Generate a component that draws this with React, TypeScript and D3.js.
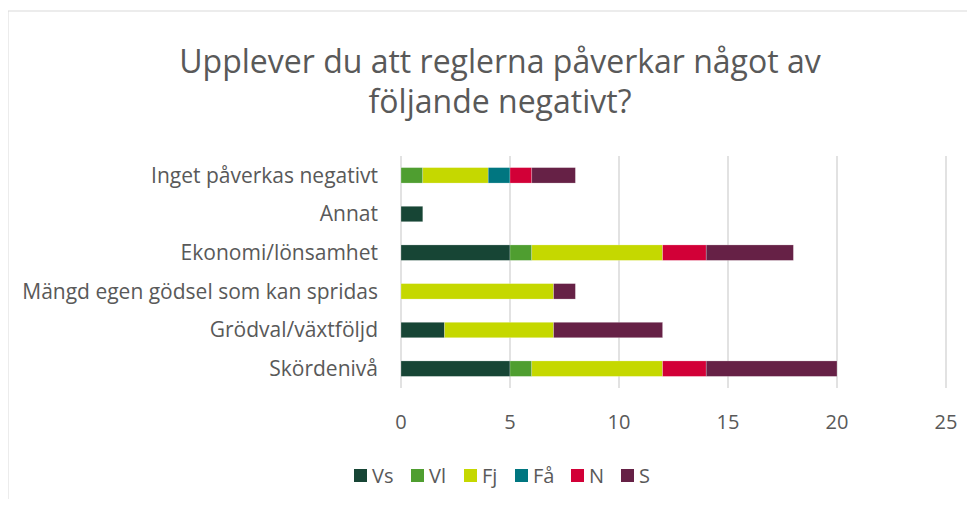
import React from "react";
import * as d3 from "d3";

const categories = [
  "Inget påverkas negativt",
  "Annat",
  "Ekonomi/lönsamhet",
  "Mängd egen gödsel som kan spridas",
  "Grödval/växtföljd",
  "Skördenivå",
];
const seriesNames = ["Vs", "Vl", "Fj", "Få", "N", "S"];
const vsValues = [0, 1, 5, 0, 2, 5];
const vlValues = [1, 0, 1, 0, 0, 1];
const fjValues = [3, 0, 6, 7, 5, 6];
const faValues = [1, 0, 0, 0, 0, 0];
const nValues = [1, 0, 2, 0, 0, 2];
const sValues = [2, 0, 4, 1, 5, 6];
const seriesColors = ["#174535", "#4f9e30", "#c5d800", "#007680", "#d20037", "#662146"];
const xTicks = [0, 5, 10, 15, 20, 25];
const titleLines = ["Upplever du att reglerna påverkar något av", "följande negativt?"];

const W = 975;
const H = 507;
const FONT = "'Open Sans', sans-serif";
const TXT = "#595959";

export default function App() {
  const seriesValues = [vsValues, vlValues, fjValues, faValues, nValues, sValues];
  const rows = categories.map((c, i) => {
    const r: any = { cat: c };
    seriesNames.forEach((s, j) => (r[s] = seriesValues[j][i]));
    return r;
  });
  const stack = d3.stack().keys(seriesNames)(rows);

  const x = d3.scaleLinear().domain([0, 25]).range([401, 946]);
  const y = d3
    .scaleBand()
    .domain(categories)
    .range([156, 388])
    .paddingInner(0.6)
    .paddingOuter(0.3);

  const legendX = [354, 411, 464, 515, 571, 621];

  return (
    <div style={{ margin: -8, width: W, height: H, overflow: "hidden" }}>
      <svg width={W} height={H} style={{ display: "block", background: "#fff" }}>
        <rect x={8} y={11} width={W} height={H} fill="#fff" stroke="#d9d9d9" strokeWidth={1} />
        {titleLines.map((t, i) => (
          <text
            key={i}
            x={500}
            y={73 + i * 40}
            textAnchor="middle"
            fontFamily={FONT}
            fontSize={32}
            fill={TXT}
          >
            {t}
          </text>
        ))}
        {xTicks.map((t) => (
          <g key={t}>
            <line x1={x(t)} x2={x(t)} y1={156} y2={388} stroke="#d9d9d9" strokeWidth={1.5} />
            <text
              x={x(t)}
              y={429}
              textAnchor="middle"
              fontFamily={FONT}
              fontSize={20}
              fill={TXT}
            >
              {t}
            </text>
          </g>
        ))}
        {stack.map((layer, j) => (
          <g key={layer.key}>
            {layer.map((d: any, i: number) =>
              d[1] - d[0] > 0 ? (
                <rect
                  key={i}
                  x={x(d[0])}
                  width={x(d[1]) - x(d[0])}
                  y={y(categories[i])}
                  height={y.bandwidth()}
                  fill={seriesColors[j]}
                  stroke="#ffffff"
                  strokeOpacity={0.4}
                  strokeWidth={0.6}
                />
              ) : null
            )}
          </g>
        ))}
        {categories.map((c) => (
          <text
            key={c}
            x={378}
            y={(y(c) as number) + y.bandwidth() / 2}
            dy="0.35em"
            textAnchor="end"
            fontFamily={FONT}
            fontSize={21}
            fill={TXT}
          >
            {c}
          </text>
        ))}
        {seriesNames.map((s, j) => (
          <g key={s}>
            <rect x={legendX[j]} y={469} width={13} height={13} fill={seriesColors[j]} />
            <text
              x={legendX[j] + 18}
              y={476}
              dy="0.35em"
              fontFamily={FONT}
              fontSize={20}
              fill={TXT}
            >
              {s}
            </text>
          </g>
        ))}
      </svg>
    </div>
  );
}
